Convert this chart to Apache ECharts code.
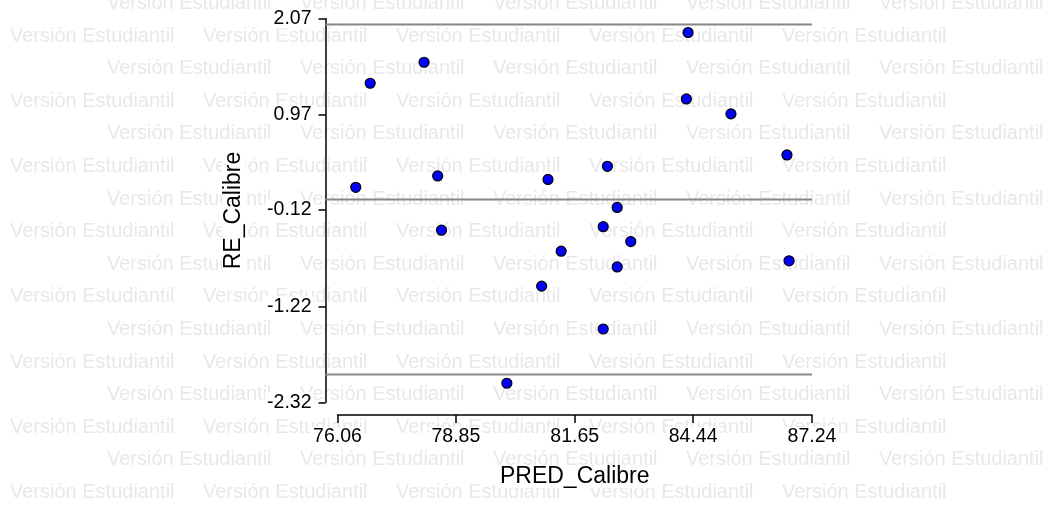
<!DOCTYPE html>
<html>
<head>
<meta charset="utf-8">
<script src="https://cdn.jsdelivr.net/npm/echarts@6/dist/echarts.min.js"></script>
<style>
  html, body { margin: 0; padding: 0; background: #fff; }
  #chart { width: 1050px; height: 508px; }
</style>
</head>
<body>
<div id="chart"></div>
<script>
// datos
const predCalibre = [76.83, 78.10, 84.32, 84.28, 85.33, 86.65, 76.49, 78.42, 81.02, 82.42,
                     82.65, 78.51, 82.32, 82.97, 81.33, 82.65, 86.70, 80.87, 82.32, 80.05];
const reCalibre = [1.33, 1.57, 1.91, 1.15, 0.98, 0.51, 0.14, 0.27, 0.23, 0.38,
                   -0.09, -0.35, -0.31, -0.48, -0.59, -0.77, -0.70, -0.99, -1.48, -2.10];
const xTicks = [76.06, 78.85, 81.65, 84.44, 87.24];
const yTicks = [-2.32, -1.22, -0.12, 0.97, 2.07];
const refLines = [2, 0, -2];
const lineStartX = 75.78;   // las lineas arrancan en el eje Y

const FONT = "'Liberation Sans', Arial, sans-serif";
const xMin = xTicks[0], xMax = xTicks[xTicks.length - 1];
const yMin = yTicks[0], yMax = yTicks[yTicks.length - 1];

// marca de agua "Versión Estudiantil"
const watermark = [];
for (let row = 0; row < 16; row++) {
  const x0 = row % 2 === 0 ? 107 : 10;
  for (let k = 0; k < 5; k++) {
    watermark.push({
      type: 'text',
      x: x0 + k * 193,
      y: 3.5 + row * 32.6,
      z: -10,
      silent: true,
      style: {
        text: 'Versión Estudiantil',
        fill: '#e8e8e8',
        font: '20px ' + FONT,
        textVerticalAlign: 'middle'
      }
    });
  }
}

const points = predCalibre.map((x, i) => [x, reCalibre[i]]);

const labelStyle = {
  formatter: v => v.toFixed(2),
  fontFamily: FONT, fontSize: 19.5, color: '#000',
  margin: 12, backgroundColor: '#fff', padding: [0, 2]
};
const nameStyle = { fontFamily: FONT, fontSize: 23, color: '#000', backgroundColor: '#fff', padding: [0, 3] };

const chart = echarts.init(document.getElementById('chart'));
const option = {
  backgroundColor: '#fff',
  animation: false,
  graphic: watermark,
  grid: [
    { left: 337.5, right: 238, top: 18.5, bottom: 105.5 },
    { left: 325.5, right: 238, top: 18.5, bottom: 105.5 }
  ],
  xAxis: [{
    type: 'value',
    gridIndex: 0,
    min: xMin,
    max: xMax,
    offset: 12.5,
    name: 'PRED_Calibre',
    nameLocation: 'middle',
    nameGap: 50,
    nameTextStyle: nameStyle,
    axisLine: { onZero: false, lineStyle: { color: '#000', width: 1.5 } },
    axisTick: { length: 8, customValues: xTicks, lineStyle: { color: '#000', width: 1.5 } },
    axisLabel: Object.assign({ customValues: xTicks }, labelStyle),
    splitLine: { show: false }
  }, {
    type: 'value',
    gridIndex: 1,
    min: lineStartX,
    max: xMax,
    show: false
  }],
  yAxis: [{
    type: 'value',
    gridIndex: 0,
    min: yMin,
    max: yMax,
    offset: 12,
    name: 'RE_Calibre',
    nameLocation: 'middle',
    nameGap: 80,
    nameTextStyle: nameStyle,
    axisLine: { onZero: false, lineStyle: { color: '#000', width: 1.5 } },
    axisTick: { length: 7, customValues: yTicks, lineStyle: { color: '#000', width: 1.5 } },
    axisLabel: Object.assign({ customValues: yTicks }, labelStyle),
    splitLine: { show: false }
  }, {
    type: 'value',
    gridIndex: 1,
    min: yMin,
    max: yMax,
    show: false
  }],
  series: refLines.map(v => ({
    type: 'line',
    xAxisIndex: 1,
    yAxisIndex: 1,
    silent: true,
    symbol: 'none',
    z: 1,
    data: [[lineStartX, v], [xMax, v]],
    lineStyle: { color: '#888', width: 2 }
  })).concat([{
    type: 'scatter',
    xAxisIndex: 0,
    yAxisIndex: 0,
    clip: false,
    z: 3,
    data: points,
    symbolSize: 10,
    itemStyle: { color: '#0000ff', borderColor: '#000', borderWidth: 1.2, opacity: 1 }
  }])
};
chart.setOption(option);
</script>
</body>
</html>
